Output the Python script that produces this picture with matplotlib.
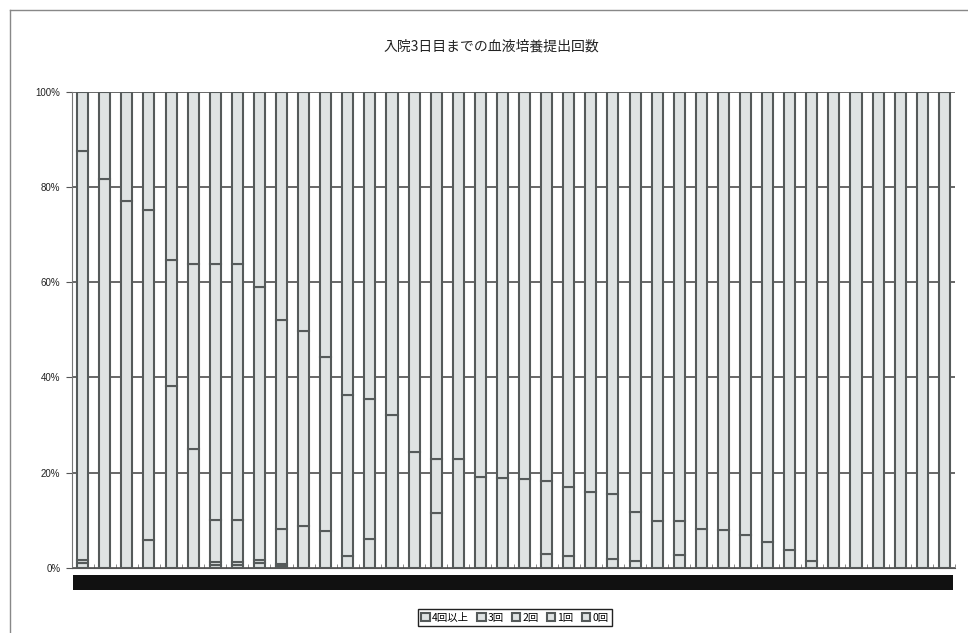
import numpy as np
import matplotlib
matplotlib.use("Agg")
from matplotlib import pyplot as plt
from matplotlib.patches import Rectangle
from matplotlib.lines import Line2D

plt.rcParams['font.family'] = ['Noto Sans CJK JP', 'DejaVu Sans']

title = '入院3日目までの血液培養提出回数'
series_names = ['4回以上', '3回', '2回', '1回', '0回']

# share (%) of each count per hospital, 40 hospitals
four_plus = [0.9, 0, 0, 0, 0, 0, 0.5, 0.5, 0.9, 0.4,
             0, 0, 0, 0, 0, 0, 0, 0, 0, 0,
             0, 0, 0, 0, 0, 0, 0, 0, 0, 0,
             0, 0, 0, 0, 0, 0, 0, 0, 0, 0]
three = [0.7, 0, 0, 0, 0, 0, 0.6, 0.6, 0.8, 0.4,
         0, 0, 0, 0, 0, 0, 0, 0, 0, 0,
         0, 0, 0, 0, 0, 0, 0, 0, 0, 0,
         0, 0, 0, 0, 0, 0, 0, 0, 0, 0]
two = [0, 0, 0, 5.8, 38.1, 25.0, 8.9, 9.0, 0, 7.4,
       8.8, 7.7, 2.5, 6.1, 0, 0, 11.4, 0, 0, 0,
       0, 2.9, 2.5, 0, 1.8, 1.5, 0, 2.7, 0, 0,
       0, 0, 0, 0, 0, 0, 0, 0, 0, 0]
one = [86.0, 81.8, 77.1, 69.4, 26.6, 38.9, 53.9, 53.8, 57.2, 43.8,
       41.0, 36.6, 33.8, 29.3, 32.1, 24.4, 11.5, 22.9, 19.0, 18.8,
       18.6, 15.3, 14.4, 15.9, 13.7, 10.1, 9.9, 7.2, 8.1, 7.9,
       6.9, 5.5, 3.8, 1.3, 0, 0, 0, 0, 0, 0]
zero = [100 - a - b - c - d for a, b, c, d in zip(four_plus, three, two, one)]

fig = plt.figure(figsize=(9.68, 6.33), dpi=100)
ax = fig.add_axes([0.074, 0.1032, 0.913, 0.7515])

x = np.arange(len(one))
bottom = np.zeros(len(one))
for name, vals in zip(series_names, [four_plus, three, two, one, zero]):
    ax.bar(x, vals, width=0.5, bottom=bottom, color='#dfe3e3',
           edgecolor='#555a5a', linewidth=1.5, label=name, zorder=3)
    bottom += np.array(vals)

ax.set_xlim(-0.5, len(one) - 0.5)
ax.set_ylim(0, 100)
ax.set_yticks(range(0, 101, 20))
ax.set_yticklabels(['%d%%' % v for v in range(0, 101, 20)],
                   family='Liberation Sans', fontsize=7, color='#222222')
ax.tick_params(axis='y', length=4, color='#555555', pad=4)
ax.set_xticks([])
ax.set_xticks(np.arange(-0.5, len(one)), minor=True)
ax.tick_params(axis='x', which='minor', direction='in', length=3, color='#777777')
ax.yaxis.grid(True, color='#3f3f3f', linewidth=1.1, zorder=0)
ax.set_axisbelow(True)
for s in ['top', 'right']:
    ax.spines[s].set_visible(False)
ax.spines['left'].set_color('#777777')
ax.spines['bottom'].set_color('#555555')

# category labels band under the axis
ax.add_patch(Rectangle((0.002, -0.047), 0.995, 0.032, transform=ax.transAxes,
                       facecolor='#111111', edgecolor='none', clip_on=False))

fig.text(0.508, 0.926, title, ha='center', va='center', fontsize=10,
         color='#222222')

leg = fig.legend(loc='center', bbox_to_anchor=(0.532, 0.0245), ncol=5,
                 fontsize=7.5, handlelength=0.8, handleheight=0.8,
                 handletextpad=0.2, columnspacing=0.8, borderpad=0.3,
                 fancybox=False, framealpha=1)
leg.get_frame().set_edgecolor('#222222')
leg.get_frame().set_linewidth(1.0)

# chart area border
fig.add_artist(Line2D([10 / 968, 10 / 968], [0, 1 - 10 / 633],
                      transform=fig.transFigure, color='#888888', lw=1))
fig.add_artist(Line2D([10 / 968, 1], [1 - 10 / 633, 1 - 10 / 633],
                      transform=fig.transFigure, color='#888888', lw=1))

fig.savefig('out.png', dpi=100)
